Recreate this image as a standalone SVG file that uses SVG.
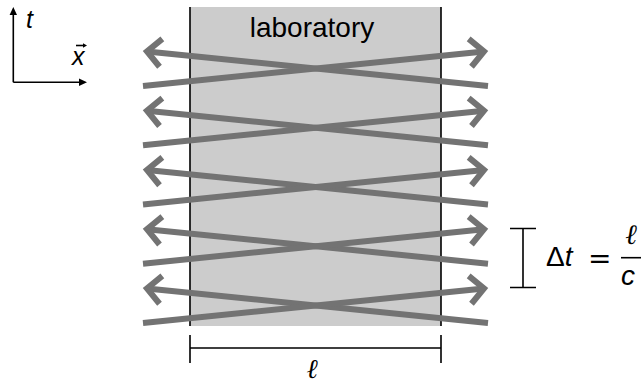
<svg xmlns="http://www.w3.org/2000/svg" width="641" height="383" viewBox="0 0 641 383">
<defs>
<style>
.ray{fill:none;stroke:#737373;stroke-width:6;marker-end:url(#chev)}
.blk{fill:none;stroke:#000;stroke-width:1.6}
.txt{font-family:"Liberation Sans",Arial,sans-serif;fill:#000}
.it{font-style:italic}
.ell{font-family:"DejaVu Serif",serif;font-style:italic;fill:#000}
</style>
<marker id="chev" markerUnits="userSpaceOnUse" orient="auto" refX="0" refY="0" markerWidth="40" markerHeight="40" viewBox="-20 -20 40 40" overflow="visible">
<path d="M -14 -14 L 0 0 L -14 14" fill="none" stroke="#737373" stroke-width="6" stroke-linejoin="miter"/>
</marker>
</defs>
<g id="axes">
<path class="blk" d="M13.3 82.3 V13 M13.3 82.3 H80"/>
<path d="M13.3 7 L17 15 L9.6 15 Z M87 82.3 L79 78.6 L79 86 Z" fill="#000"/>
<text class="txt it" x="26" y="28" font-size="25">t</text>
<text class="txt it" x="72" y="65" font-size="25">x</text>
<path class="blk" d="M76 45.5 H84" stroke-width="1.2"/>
<path d="M87 45.5 L83 43.3 L83 47.7 Z" fill="#000"/>
</g>
<g id="laboratory">
<rect x="190" y="7" width="251" height="319" fill="#cccccc"/>
<path class="blk" d="M190 7 V326 M441 7 V326"/>
<text class="txt" x="312" y="37" font-size="28" text-anchor="middle">laboratory</text>
</g>
<g id="connectors">
<path class="ray" d="M488 86 L147 51.4"/>
<path class="ray" d="M143 86 L484 51.4"/>
<path class="ray" d="M488 145.25 L147 110.65"/>
<path class="ray" d="M143 145.25 L484 110.65"/>
<path class="ray" d="M488 204.5 L147 169.9"/>
<path class="ray" d="M143 204.5 L484 169.9"/>
<path class="ray" d="M488 263.75 L147 229.15"/>
<path class="ray" d="M143 263.75 L484 229.15"/>
<path class="ray" d="M488 323 L147 288.4"/>
<path class="ray" d="M143 323 L484 288.4"/>
</g>
<g id="length">
<path class="blk" d="M190 348 H441 M190 335 V363 M441 335 V363"/>
<text class="ell" x="312" y="378" font-size="27" text-anchor="middle">ℓ</text>
</g>
<g id="interval">
<path class="blk" d="M523 228.5 V287.5 M510 228.5 H536 M510 287.5 H536"/>
<text class="txt" x="546" y="266" font-size="28">Δ<tspan class="it">t</tspan></text>
<text x="588" y="268" font-size="28" font-family="DejaVu Sans,sans-serif">=</text>
<path class="blk" d="M621 257.7 H641" stroke-width="1.8"/>
<text class="ell" x="631" y="244" font-size="28" text-anchor="middle">ℓ</text>
<text class="txt it" x="621" y="285" font-size="28">c</text>
</g>
</svg>
